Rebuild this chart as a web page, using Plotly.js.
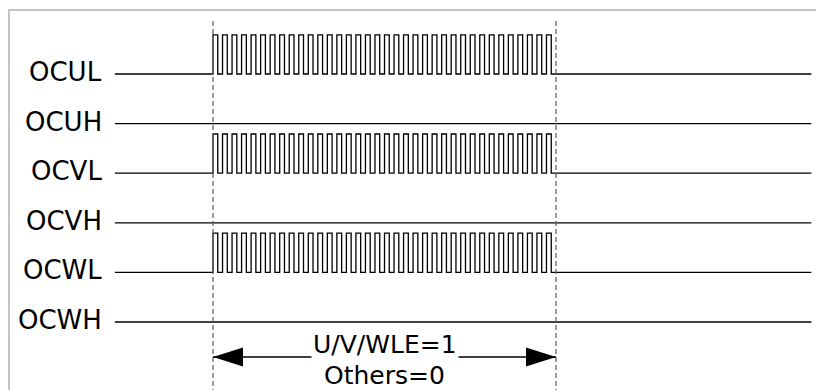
<!DOCTYPE html>
<html>
<head>
<meta charset="utf-8">
<script src="https://cdn.plot.ly/plotly-3.0.1.min.js"></script>
<style>html,body{margin:0;padding:0;background:#fff;}#chart{width:816px;height:390px;}</style>
</head>
<body>
<div id="chart"></div>
<script>
// ---- data (time in PWM periods) ----
const signals   = ['OCUL', 'OCUH', 'OCVL', 'OCVH', 'OCWL', 'OCWH'];
const pwmActive = [1, 0, 1, 0, 1, 0];
const tStart = -0.3;          // traces begin
const tEnd   = 72.8;          // traces end
const pwmOn  = 10;            // U/V/WLE goes to 1
const pwmOff = 46;            // U/V/WLE goes back
const pulseCount = 36;        // pulses in the window
const dutyHigh = 0.5;         // high part of each period
const pulseHeight = 0.79;     // in row spacings
const spanLabel1 = 'U/V/WLE=1';
const spanLabel2 = 'Others=0';

// ---- build traces ----
const FONT = 'DejaVu Sans, Noto Sans, sans-serif';
const traces = signals.map((name, i) => {
  const xs = [tStart], ys = [i];
  if (pwmActive[i]) {
    for (let k = 0; k < pulseCount; k++) {
      xs.push(pwmOn + k);             ys.push(i - pulseHeight);
      xs.push(pwmOn + k + dutyHigh);  ys.push(i);
    }
  }
  xs.push(tEnd); ys.push(i);
  return {x: xs, y: ys, type: 'scatter', mode: 'lines', name: name,
          line: {shape: 'hv', color: '#000', width: 1.3}, hoverinfo: 'skip', showlegend: false};
});

// axis mapping: rows 49.6 px apart, first row at 74 px
const rowPx = 49.6, firstRowPx = 74, H = 390;
const yTop = -firstRowPx / rowPx, yBot = (H - firstRowPx) / rowPx;
const pxPerT = 343 / pulseCount;  // x scale
const W = 816, onPx = 213;
const xLeft = pwmOn - onPx / pxPerT, xRight = pwmOn + (W - onPx) / pxPerT;

const arrowY = (357 - firstRowPx) / rowPx;
const dashTop = (21 - firstRowPx) / rowPx;

const shapes = [
  // frame (top and left)
  {type: 'line', xref: 'paper', yref: 'paper', x0: 9/W, x1: 1, y0: 1 - 10/H, y1: 1 - 10/H, line: {color: '#c4c4c4', width: 2}},
  {type: 'line', xref: 'paper', yref: 'paper', x0: 9/W, x1: 9/W, y0: 1 - 9/H, y1: 0, line: {color: '#c4c4c4', width: 2}},
  // dashed markers
  {type: 'line', x0: pwmOn, x1: pwmOn, y0: dashTop, y1: yBot, line: {color: '#666', width: 1.3, dash: '5px,3px'}},
  {type: 'line', x0: pwmOff, x1: pwmOff, y0: dashTop, y1: yBot, line: {color: '#666', width: 1.3, dash: '5px,3px'}},
  // arrow shaft
  {type: 'line', x0: pwmOn, x1: pwmOff, y0: arrowY, y1: arrowY, line: {color: '#000', width: 1.3}},
  // arrow heads
  {type: 'path', xsizemode: 'pixel', ysizemode: 'pixel', xanchor: pwmOn, yanchor: arrowY,
   path: 'M0,0 L30,9.5 L30,-9.5 Z', fillcolor: '#000', line: {width: 0}},
  {type: 'path', xsizemode: 'pixel', ysizemode: 'pixel', xanchor: pwmOff, yanchor: arrowY,
   path: 'M0,0 L-30,9.5 L-30,-9.5 Z', fillcolor: '#000', line: {width: 0}}
];

const annotations = signals.map((name, i) => ({
  x: tStart, y: i, xref: 'x', yref: 'y', text: name, showarrow: false,
  xanchor: 'right', yanchor: 'middle', xshift: -11, yshift: 2,
  font: {family: FONT, size: 26, color: '#000'}
}));
annotations.push({x: (pwmOn + pwmOff) / 2, y: arrowY, text: spanLabel1, showarrow: false,
  xanchor: 'center', yanchor: 'middle', yshift: 13, bgcolor: '#fff', borderpad: 1,
  font: {family: FONT, size: 25, color: '#000'}});
annotations.push({x: (pwmOn + pwmOff) / 2, y: arrowY, text: spanLabel2, showarrow: false,
  xanchor: 'center', yanchor: 'middle', yshift: -18,
  font: {family: FONT, size: 25, color: '#000'}});

const layout = {
  width: W, height: H,
  margin: {l: 0, r: 0, t: 0, b: 0},
  paper_bgcolor: '#fff', plot_bgcolor: '#fff',
  xaxis: {range: [xLeft, xRight], visible: false, fixedrange: true},
  yaxis: {range: [yBot, yTop], visible: false, fixedrange: true},
  shapes: shapes, annotations: annotations, showlegend: false
};

Plotly.newPlot('chart', traces, layout, {staticPlot: true, displayModeBar: false});
</script>
</body>
</html>
